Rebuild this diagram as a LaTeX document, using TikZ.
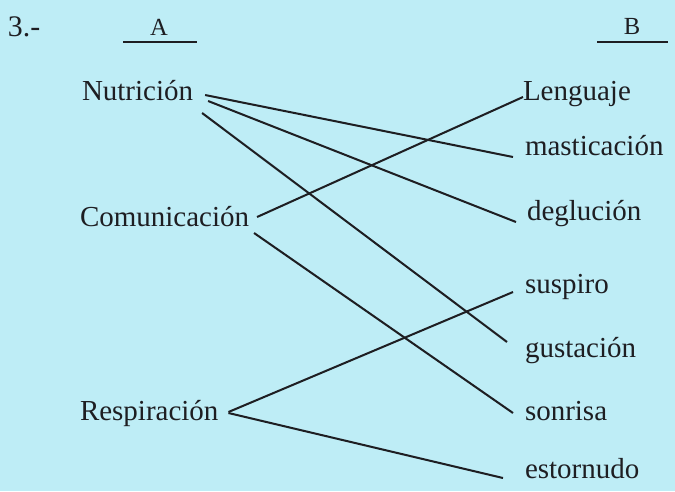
\documentclass[tikz,border=0pt]{standalone}
\usepackage{fontspec}
\setmainfont{Liberation Serif}
\definecolor{fondo}{RGB}{190,237,246}
\definecolor{tinta}{RGB}{30,30,34}
\begin{document}
\begin{tikzpicture}[x=0.02cm,y=-0.02cm,
    palabra/.style={anchor=base west,inner sep=0pt,outer sep=0pt,text=tinta,font=\fontsize{16.5}{18}\selectfont},
    titulo/.style={anchor=base,inner sep=0pt,outer sep=0pt,text=tinta,font=\fontsize{14}{16}\selectfont},
    une/.style={draw=tinta,line width=1.15pt},
    raya/.style={draw=tinta,line width=1.3pt}]
    \fill[fondo] (0,0) rectangle (675,491);
    \useasboundingbox (0,0) rectangle (675,491);
    % encabezado
    \node[titulo,anchor=base west,font=\fontsize{17}{19}\selectfont] (num) at (8,36) {3.-};
    \node[titulo] (colA) at (159,35) {A};
    \node[titulo] (colB) at (632,34) {B};
    \draw[raya] ([shift={(-36,7)}]colA.base) -- ([shift={(38,7)}]colA.base);
    \draw[raya] ([shift={(-35,8)}]colB.base) -- ([shift={(36,8)}]colB.base);
    % columna A
    \node[palabra] (nut) at (82,100) {Nutrición};
    \node[palabra] (com) at (80,226) {Comunicación};
    \node[palabra] (res) at (80,420) {Respiración};
    % columna B
    \node[palabra] (len) at (523,100) {Lenguaje};
    \node[palabra] (mas) at (525,155) {masticación};
    \node[palabra] (deg) at (527,220) {deglución};
    \node[palabra] (sus) at (525,293) {suspiro};
    \node[palabra] (gus) at (525,357) {gustación};
    \node[palabra] (son) at (525,420) {sonrisa};
    \node[palabra] (est) at (525,478) {estornudo};
    % uniones
    \draw[une] ([shift={(12,-5)}]nut.base east) -- ([shift={(-12,2)}]mas.base west);
    \draw[une] ([shift={(15,1)}]nut.base east) -- ([shift={(-11,2)}]deg.base west);
    \draw[une] ([shift={(9,13)}]nut.base east) -- ([shift={(-18,-15)}]gus.base west);
    \draw[une] ([shift={(8,-9)}]com.base east) -- ([shift={(0,-3)}]len.base west);
    \draw[une] ([shift={(5,7)}]com.base east) -- ([shift={(-12,-7)}]son.base west);
    \draw[une] ([shift={(10,-8)}]res.base east) -- ([shift={(-12,-1)}]sus.base west);
    \draw[une] ([shift={(10,-7)}]res.base east) -- ([shift={(-22,0)}]est.base west);
\end{tikzpicture}
\end{document}
